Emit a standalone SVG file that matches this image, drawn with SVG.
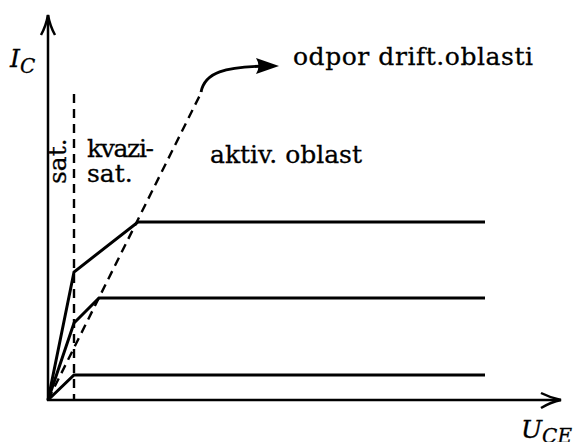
<svg xmlns="http://www.w3.org/2000/svg" width="575" height="442" viewBox="0 0 575 442">
<style>
.ax{fill:none;stroke:#000;stroke-width:2.5}
.cv{fill:none;stroke:#000;stroke-width:3;stroke-linejoin:miter}
.ds{fill:none;stroke:#000;stroke-width:2.4;stroke-dasharray:9,6}
.t{font-family:"DejaVu Serif","Liberation Serif",serif;font-size:25px;fill:#000;stroke:#000;stroke-width:0.3}
.it{font-style:italic}
</style>
<rect width="575" height="442" fill="#fff"/>
<g id="axes">
<path class="ax" d="M48,401 V15"/>
<path class="ax" d="M41,35 Q46,26 48,15 Q50,26 55,35"/>
<path class="ax" d="M47,400 H561"/>
<path class="ax" d="M541,393 Q551,398 561,400 Q551,402 541,408"/>
</g>
<g id="connectors">
<path class="ds" d="M74,94 V400"/>
<path class="ds" d="M48,400 L202,91"/>
<path class="cv" d="M48,400 L74,272 L138,222 H485"/>
<path class="cv" d="M48,400 L74,323 L99,298 H485"/>
<path class="cv" d="M48,400 L74,375 H485"/>
<path fill="none" stroke="#000" stroke-width="2.8" d="M201,92 C205,72 225,67 266,66"/>
<path fill="#000" d="M279,66 L256,58 Q261,66 256,74 Z"/>
</g>
<g id="labels">
<text class="t it" x="10" y="67" font-size="28">I<tspan font-size="20" dy="6">C</tspan></text>
<text class="t it" x="521" y="438" font-size="27">U<tspan font-size="20" dy="5">CE</tspan></text>
<text class="t" x="293" y="65" textLength="240">odpor drift.oblasti</text>
<text class="t" x="210" y="163">aktiv. oblast</text>
<text class="t" x="87" y="157" textLength="67">kvazi-</text>
<text class="t" x="87" y="182">sat.</text>
<text class="t" transform="translate(66,184) rotate(-90)" x="0" y="0">sat.</text>
</g>
</svg>
